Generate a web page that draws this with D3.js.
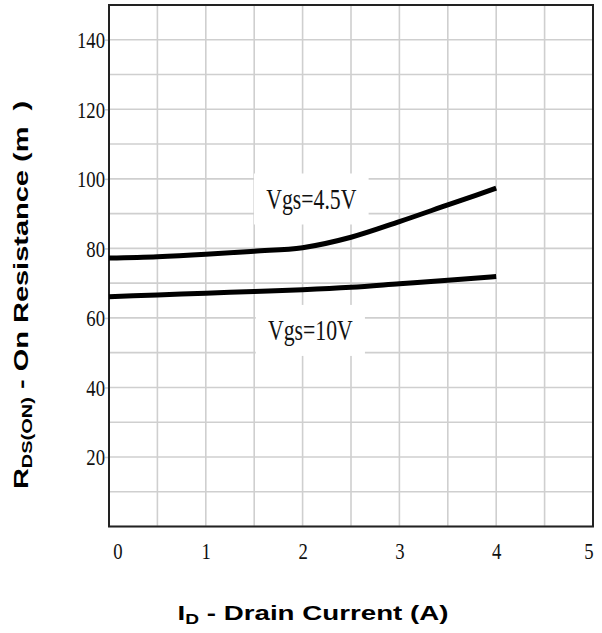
<!DOCTYPE html>
<html>
<head>
<meta charset="utf-8">
<script src="https://cdn.jsdelivr.net/npm/d3@7"></script>
<style>
  html, body { margin: 0; padding: 0; background: #ffffff; }
  svg { display: block; }
</style>
</head>
<body>
<svg id="chart" width="602" height="633"></svg>
<script>
// ---- data ----
const currentA = [0, 0.5, 1, 1.5, 2, 2.5, 3, 3.5, 4];
const rdsVgs45 = [77.2, 77.6, 78.3, 79.2, 80.2, 83.2, 87.7, 92.5, 97.3];
const rdsVgs10 = [66.1, 66.6, 67.1, 67.6, 68.1, 68.8, 69.8, 70.8, 71.9];
const xTickLabels = [0, 1, 2, 3, 4, 5];
const yTickLabels = [20, 40, 60, 80, 100, 120, 140];
const curveLabelText = ["Vgs=4.5V", "Vgs=10V"];
const curveLabelX = [2.09, 2.08];
const curveLabelY = [94.2, 56.4];

// ---- layout ----
const svg = d3.select("#chart");
const plot = { left: 109, right: 593, top: 5, bottom: 526.5 };
const x = d3.scaleLinear().domain([0, 5]).range([plot.left, plot.right]);
const y = d3.scaleLinear().domain([0, 150]).range([plot.bottom, plot.top]);

const serif = "'Liberation Serif', 'DejaVu Serif', serif";
const sans = "'Liberation Sans', Arial, sans-serif";

// grid
const grid = svg.append("g").attr("stroke", "#cfcfcf").attr("stroke-width", 1.6);
grid.selectAll("line.v").data(x.ticks(10)).join("line")
  .attr("class", "v")
  .attr("x1", d => x(d)).attr("x2", d => x(d))
  .attr("y1", plot.top).attr("y2", plot.bottom);
grid.selectAll("line.h").data(y.ticks(15)).join("line")
  .attr("class", "h")
  .attr("x1", plot.left).attr("x2", plot.right)
  .attr("y1", d => y(d)).attr("y2", d => y(d));

// x axis (labels only)
const xAxis = svg.append("g")
  .attr("transform", `translate(0,${plot.bottom})`)
  .call(d3.axisBottom(x).tickValues(xTickLabels).tickSize(0).tickFormat(d3.format("d")));
xAxis.select(".domain").remove();
xAxis.selectAll("text")
  .attr("y", null).attr("dy", null)
  .attr("font-family", serif).attr("font-size", 24).attr("fill", "#111")
  .attr("transform", (d, i, n) => {
    const shift = i === 0 ? 8.5 : (i === n.length - 1 ? -4.5 : 0);
    return `translate(${shift},32.5) scale(0.78,1)`;
  });

// y axis
const yAxis = svg.append("g")
  .attr("transform", `translate(${plot.left},0)`)
  .call(d3.axisLeft(y).tickValues(yTickLabels).tickSize(4).tickPadding(0).tickFormat(d3.format("d")));
yAxis.select(".domain").remove();
yAxis.selectAll(".tick line").attr("stroke", "#cfcfcf").attr("stroke-width", 1.6);
yAxis.selectAll("text")
  .attr("x", null).attr("dy", null)
  .attr("text-anchor", "end")
  .attr("font-family", serif).attr("font-size", 24).attr("fill", "#111")
  .attr("transform", "translate(-4,8) scale(0.78,1)");

// frame
svg.append("rect")
  .attr("x", plot.left).attr("y", plot.top)
  .attr("width", plot.right - plot.left).attr("height", plot.bottom - plot.top)
  .attr("fill", "none").attr("stroke", "#222").attr("stroke-width", 2);

// curves
const line = d3.line().x(d => x(d[0])).y(d => y(d[1])).curve(d3.curveMonotoneX);
[rdsVgs45, rdsVgs10].forEach(series => {
  svg.append("path")
    .datum(currentA.map((c, i) => [c, series[i]]))
    .attr("d", line)
    .attr("fill", "none")
    .attr("stroke", "#000")
    .attr("stroke-width", 5)
    .attr("stroke-linecap", "butt");
});

// curve labels with white boxes
const labelScale = 0.75;
curveLabelText.forEach((t, i) => {
  const g = svg.append("g").attr("transform", `translate(${x(curveLabelX[i])},${y(curveLabelY[i])})`);
  const rect = g.append("rect").attr("fill", "#fff");
  const txt = g.append("text")
    .attr("text-anchor", "middle")
    .attr("dominant-baseline", "central")
    .attr("font-family", serif).attr("font-size", 29).attr("fill", "#111")
    .attr("transform", `scale(${labelScale},1)`)
    .text(t);
  const w = txt.node().getBBox().width * labelScale + 24;
  const h = 51;
  rect.attr("x", -w / 2).attr("y", -h / 2).attr("width", w).attr("height", h);
});

// x title
const xt = svg.append("text")
  .attr("transform", "translate(313,620) scale(1.32,1)")
  .attr("text-anchor", "middle")
  .attr("font-family", sans).attr("font-weight", "bold").attr("font-size", 21).attr("fill", "#000");
xt.append("tspan").text("I");
xt.append("tspan").attr("font-size", 14.5).attr("dy", 4).text("D");
xt.append("tspan").attr("dy", -4).text(" - Drain Current (A)");

// y title
const yt = svg.append("text")
  .attr("transform", "translate(28,295) rotate(-90) scale(1.38,1)")
  .attr("text-anchor", "middle")
  .style("white-space", "pre")
  .attr("font-family", sans).attr("font-weight", "bold").attr("font-size", 21).attr("fill", "#000");
yt.append("tspan").text("R");
yt.append("tspan").attr("font-size", 14.5).attr("dy", 4).text("DS(ON)");
yt.append("tspan").attr("dy", -4).text(" - On Resistance (m\u00a0\u00a0)");
</script>
</body>
</html>
